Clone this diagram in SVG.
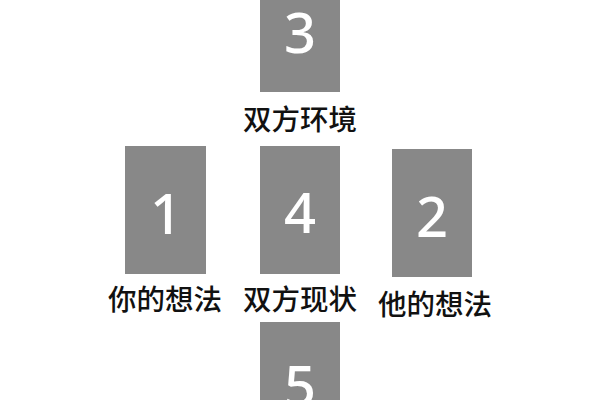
<svg xmlns="http://www.w3.org/2000/svg" width="600" height="400" viewBox="0 0 600 400">
<style>
.card{fill:#888888}
.num{font-family:"Noto Sans","Noto Sans CJK SC",sans-serif;font-size:56px;font-weight:500;fill:#ffffff;text-anchor:middle}
.lbl{font-family:"Noto Sans CJK SC",sans-serif;font-size:28.5px;font-weight:500;fill:#111111;text-anchor:middle}
</style>
<rect width="600" height="400" fill="#ffffff"/>
<g id="node3"><rect class="card" x="260" y="0" width="80" height="92"/><text class="num" x="300" y="53">3</text><text class="lbl" x="300" y="130">双方环境</text></g>
<g id="node1"><rect class="card" x="125" y="146" width="81" height="128"/><text class="num" x="166" y="234">1</text><text class="lbl" x="165" y="310">你的想法</text></g>
<g id="node4"><rect class="card" x="260" y="146" width="80" height="128"/><text class="num" x="300" y="233">4</text><text class="lbl" x="300" y="310">双方现状</text></g>
<g id="node2"><rect class="card" x="392" y="149" width="80" height="128"/><text class="num" x="432" y="237">2</text><text class="lbl" x="435" y="315">他的想法</text></g>
<g id="node5"><rect class="card" x="260" y="322" width="80" height="90"/><text class="num" x="300" y="406">5</text></g>
<g id="connectors"></g>
</svg>
